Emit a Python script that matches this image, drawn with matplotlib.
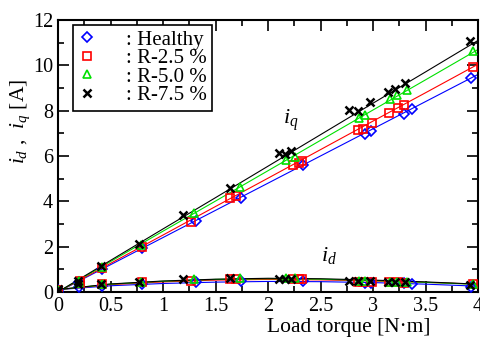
import matplotlib
matplotlib.use('Agg')
import matplotlib.pyplot as plt
from matplotlib.ticker import MultipleLocator

plt.rcParams['font.family'] = ['Liberation Serif', 'DejaVu Serif']
plt.rcParams['mathtext.fontset'] = 'custom'
plt.rcParams['mathtext.it'] = 'Liberation Serif:italic'
plt.rcParams['mathtext.rm'] = 'Liberation Serif'

# measured points
names = [': Healthy', ': R-2.5 %', ': R-5.0 %', ': R-7.5 %']
colors = ['#0000ff', '#ff0000', '#00e000', '#000000']
markers = ['D', 's', '^', 'x']

t_healthy = [0.0, 0.2, 0.42, 0.8, 1.31, 1.74, 2.33, 2.92, 2.98, 3.29, 3.37, 3.93]
iq_healthy = [0.0, 0.42, 1.0, 1.95, 3.15, 4.15, 5.6, 6.97, 7.1, 7.85, 8.07, 9.45]
id_healthy = [0.08, 0.2, 0.28, 0.35, 0.42, 0.5, 0.48, 0.4, 0.38, 0.38, 0.36, 0.22]

t_r25 = [0.0, 0.21, 0.42, 0.8, 1.27, 1.64, 1.69, 2.24, 2.29, 2.32, 2.86, 2.9, 2.99, 3.15, 3.24, 3.29, 3.95]
iq_r25 = [0.05, 0.5, 1.05, 2.0, 3.1, 4.15, 4.22, 5.6, 5.69, 5.78, 7.15, 7.2, 7.45, 7.9, 8.1, 8.25, 9.92]
id_r25 = [0.1, 0.38, 0.33, 0.42, 0.5, 0.58, 0.58, 0.55, 0.55, 0.55, 0.45, 0.45, 0.42, 0.42, 0.42, 0.4, 0.35]

t_r50 = [0.0, 0.2, 0.42, 0.79, 1.29, 1.73, 2.17, 2.26, 2.87, 2.92, 3.16, 3.23, 3.32, 3.95]
iq_r50 = [0.05, 0.5, 1.1, 2.08, 3.47, 4.62, 5.8, 5.95, 7.68, 7.8, 8.5, 8.7, 8.9, 10.65]
id_r50 = [0.1, 0.38, 0.33, 0.42, 0.55, 0.62, 0.6, 0.6, 0.5, 0.48, 0.45, 0.45, 0.42, 0.35]

t_r75 = [0.0, 0.19, 0.41, 0.77, 1.19, 1.64, 2.1, 2.16, 2.22, 2.77, 2.86, 2.97, 3.14, 3.21, 3.3, 3.92]
iq_r75 = [0.05, 0.5, 1.12, 2.12, 3.38, 4.6, 6.15, 6.1, 6.2, 8.03, 8.0, 8.38, 8.82, 8.95, 9.22, 11.07]
id_r75 = [0.12, 0.35, 0.33, 0.42, 0.55, 0.6, 0.58, 0.58, 0.58, 0.5, 0.5, 0.47, 0.44, 0.44, 0.42, 0.32]

# trend lines
t_line = [0, 0.5, 1, 1.5, 2, 2.5, 3, 3.5, 4]
iq_line = [
    [0.0, 1.2, 2.4, 3.6, 4.8, 6.0, 7.2, 8.4, 9.6],
    [0.0, 1.26, 2.51, 3.77, 5.02, 6.28, 7.54, 8.79, 10.05],
    [0.0, 1.34, 2.68, 4.01, 5.35, 6.69, 8.03, 9.36, 10.7],
    [0.0, 1.39, 2.78, 4.16, 5.55, 6.94, 8.33, 9.71, 11.1],
]
id_line = [
    [0.1, 0.27, 0.37, 0.43, 0.46, 0.45, 0.41, 0.34, 0.25],
    [0.1, 0.32, 0.44, 0.52, 0.55, 0.53, 0.48, 0.42, 0.34],
    [0.1, 0.34, 0.47, 0.55, 0.58, 0.56, 0.5, 0.42, 0.33],
    [0.1, 0.35, 0.48, 0.56, 0.6, 0.58, 0.52, 0.44, 0.34],
]

ts = [t_healthy, t_r25, t_r50, t_r75]
iqs = [iq_healthy, iq_r25, iq_r50, iq_r75]
ids = [id_healthy, id_r25, id_r50, id_r75]

fig = plt.figure(figsize=(4.8, 3.45), dpi=100)
ax = fig.add_axes([0.121, 0.154, 0.875, 0.788])

for i in range(4):
    ax.plot(t_line, iq_line[i], color=colors[i], lw=0.8, zorder=2)
    ax.plot(t_line, id_line[i], color=colors[i], lw=0.8, zorder=2)
sizes = {'D': 4.8, 's': 5.2, '^': 5.8, 'x': 5.8}
for i in range(4):
    mew = 1.8 if markers[i] == 'x' else 1.2
    kw = dict(ls='none', marker=markers[i], ms=sizes[markers[i]], mew=mew,
              mec=colors[i], mfc='none', zorder=3)
    ax.plot(ts[i], iqs[i], label=names[i], **kw)
    ax.plot(ts[i], ids[i], **kw)

ax.set_xlim(0, 4)
ax.set_ylim(0, 12)
ax.xaxis.set_minor_locator(MultipleLocator(0.25))
ax.yaxis.set_major_locator(MultipleLocator(2))
ax.yaxis.set_minor_locator(MultipleLocator(1))
ax.set_xticks([0, 0.5, 1, 1.5, 2, 2.5, 3, 3.5, 4])
ax.set_xticklabels(['0', '0.5', '1', '1.5', '2', '2.5', '3', '3.5', '4'])
ax.tick_params(which='both', direction='in', top=True, right=True, labelsize=14.5, width=1.2)
ax.tick_params(which='major', length=8)
ax.tick_params(which='minor', length=4)
for s in ax.spines.values():
    s.set_linewidth(1.5)

ax.set_xlabel('Load torque [N·m]', fontsize=15.5)
ax.set_ylabel('$i_d$ ,  $i_q$ [A]', fontsize=15.5)
ax.xaxis.set_label_coords(0.693, -0.095)
ax.yaxis.set_label_coords(-0.062, 0.625)

ax.text(2.14, 7.4, '$i_q$', fontsize=16)
ax.text(2.5, 1.35, '$i_d$', fontsize=16)

leg = ax.legend(loc='upper left', bbox_to_anchor=(0.036, 0.982), borderaxespad=0,
                fontsize=15, frameon=True, fancybox=False, framealpha=1,
                edgecolor='black', handlelength=0.8, handletextpad=1.5,
                labelspacing=-0.05, borderpad=0.25)
leg.get_frame().set_linewidth(1.2)

fig.savefig('out.png', dpi=100)
